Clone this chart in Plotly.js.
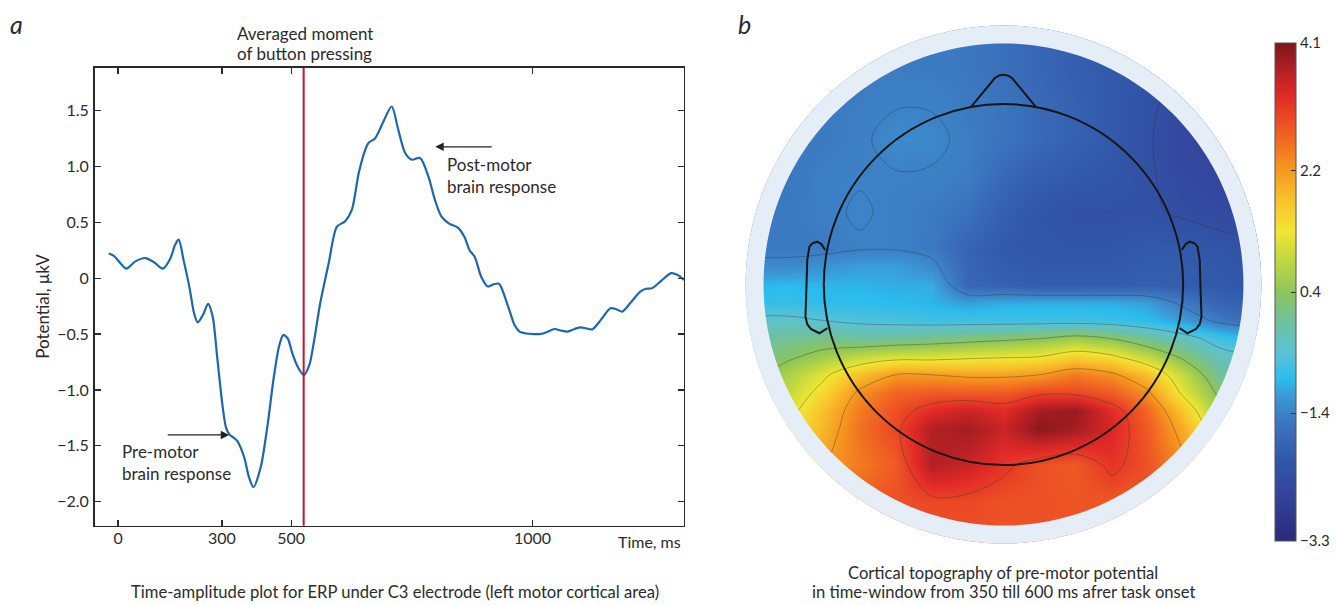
<!DOCTYPE html>
<html>
<head>
<meta charset="utf-8">
<script src="https://cdn.plot.ly/plotly-3.0.1.min.js"></script>
<style>html,body{margin:0;padding:0;background:#fff;}#chart{width:1336px;height:605px;}</style>
</head>
<body>
<div id="chart"></div>
<script>
// ---------- Panel a: ERP under C3 ----------
const timeMs = [-27,-12,5,24,50,79,105,129,150,165,175,190,206,220,230,245,260,273,287,302,312,322,335,345,364,378,391,412,431,450,465,477,490,503,520,536,552,565,584,608,632,656,675,695,714,723,742,766,790,809,829,848,872,896,915,934,955,982,1000,1015,1030,1049,1068,1085,1100,1126,1145,1159,1178,1200,1221,1240,1260,1280,1298,1318,1336,1352,1370,1395,1422,1440,1456,1480,1508,1525,1542,1570,1597,1615,1634];
const potential = [0.22,0.20,0.14,0.085,0.15,0.18,0.14,0.085,0.17,0.30,0.345,0.15,-0.08,-0.32,-0.395,-0.33,-0.23,-0.34,-0.73,-1.15,-1.34,-1.40,-1.43,-1.46,-1.60,-1.78,-1.87,-1.69,-1.33,-0.88,-0.61,-0.51,-0.54,-0.67,-0.80,-0.867,-0.78,-0.58,-0.22,0.13,0.46,0.51,0.61,0.94,1.15,1.21,1.25,1.40,1.536,1.33,1.12,1.06,1.075,0.91,0.70,0.55,0.49,0.45,0.37,0.25,0.19,0.01,-0.075,-0.055,-0.05,-0.25,-0.42,-0.478,-0.495,-0.50,-0.499,-0.48,-0.455,-0.47,-0.478,-0.455,-0.44,-0.45,-0.457,-0.37,-0.27,-0.28,-0.299,-0.22,-0.12,-0.095,-0.09,-0.02,0.045,0.03,-0.015];
const buttonPressMs = 536;
const xTickVals = [0, 300, 500, 1197];
const xTickText = ['0', '300', '500', '1000'];
const yTickVals = [-2, -1.5, -1, -0.5, 0, 0.5, 1, 1.5];
const yTickText = ['\u22122.0', '\u22121.5', '\u22121.0', '\u22120.5', '0', '0.5', '1.0', '1.5'];
const preMotorPoint = [321, -1.403];
const postMotorPoint = [916, 1.175];

// ---------- Panel b: topography ----------
const mapX = [-0.7,-0.6,-0.5,-0.4,-0.3,-0.2,-0.1,0,0.1,0.2,0.3,0.4,0.5,0.6,0.7];
const mapY = [0.7,0.6,0.5,0.4,0.3,0.2,0.1,0.05,0,-0.05,-0.1,-0.15,-0.2,-0.25,-0.3,-0.35,-0.4,-0.5,-0.6,-0.7];
const mapZ = [
 [-1.55,-1.55,-1.5,-1.5,-1.5,-1.5,-1.55,-1.65,-1.8,-1.95,-2.05,-2.15,-2.25,-2.35,-2.4],
 [-1.55,-1.55,-1.5,-1.5,-1.48,-1.5,-1.55,-1.65,-1.8,-1.95,-2.05,-2.15,-2.3,-2.4,-2.45],
 [-1.55,-1.52,-1.5,-1.47,-1.42,-1.42,-1.5,-1.6,-1.75,-1.9,-2.05,-2.25,-2.4,-2.5,-2.55],
 [-1.55,-1.55,-1.5,-1.45,-1.3,-1.33,-1.47,-1.6,-1.75,-1.9,-2.05,-2.25,-2.55,-2.65,-2.65],
 [-1.6,-1.55,-1.45,-1.42,-1.42,-1.43,-1.48,-1.75,-1.95,-2.05,-2.15,-2.25,-2.45,-2.55,-2.55],
 [-1.55,-1.52,-1.45,-1.37,-1.45,-1.5,-1.62,-1.95,-2.15,-2.25,-2.25,-2.25,-2.35,-2.45,-2.45],
 [-1.5,-1.5,-1.5,-1.43,-1.43,-1.52,-1.85,-2.05,-2.15,-2.15,-2.15,-2.05,-2.05,-2.15,-2.25],
 [-1.3,-1.3,-1.2,-1.1,-1.1,-1.3,-1.8,-2.0,-2.05,-2.05,-2.05,-2.0,-2.0,-2.1,-2.2],
 [-0.95,-0.9,-0.95,-0.95,-1.0,-1.0,-1.8,-1.9,-2.0,-2.0,-2.0,-1.95,-2.0,-2.05,-2.15],
 [-0.8,-0.8,-0.85,-0.85,-0.9,-0.95,-1.1,-1.0,-1.0,-1.0,-1.0,-1.1,-1.5,-1.85,-1.95],
 [-0.4,-0.4,-0.5,-0.6,-0.65,-0.7,-0.7,-0.7,-0.7,-0.7,-0.75,-0.85,-1.1,-1.5,-1.7],
 [-0.1,0.0,0.1,-0.05,0.0,0.1,0.2,0.3,0.4,0.6,0.4,0.0,-0.3,-0.7,-0.9],
 [0.0,0.3,0.6,0.9,1.1,1.1,1.2,1.25,1.3,1.6,1.4,0.9,0.3,-0.3,-0.5],
 [0.2,0.7,1.2,1.8,2.2,2.2,2.1,2.1,2.2,2.5,2.3,1.8,0.9,0.0,-0.2],
 [0.4,0.9,1.5,2.3,2.7,2.8,2.8,2.8,3.0,3.0,2.8,2.3,1.2,0.3,0.0],
 [0.6,1.1,1.8,2.5,2.9,3.3,3.5,3.3,3.8,3.9,3.3,2.7,1.7,0.6,0.3],
 [0.8,1.3,1.9,2.6,3.0,3.7,3.8,3.5,4.0,3.8,3.4,2.8,2.0,0.9,0.6],
 [1.4,1.8,2.2,2.5,2.8,3.7,3.5,3.2,2.9,2.8,3.2,2.9,2.3,1.6,1.3],
 [2.7,2.7,2.7,2.8,2.9,3.0,3.0,2.9,2.9,2.85,2.85,2.8,2.7,2.6,2.5],
 [2.9,2.9,2.9,2.9,2.9,2.9,2.9,2.9,2.9,2.9,2.9,2.9,2.9,2.9,2.9]
];
const cbTickVals = [4.1, 2.2, 0.4, -1.4, -3.3];
const cbTickText = ['4.1', '2.2', '0.4', '\u22121.4', '\u22123.3'];
const zMin = -3.3, zMax = 4.1;

const jetLike = [
 [0.000,'#2b2a7c'],[0.0946,'#34449c'],[0.1622,'#3157a9'],[0.2162,'#3a6cb8'],
 [0.2568,'#3c82c6'],[0.2973,'#3a9ed9'],[0.3243,'#2bbcee'],[0.3784,'#5bc3d3'],
 [0.4324,'#6cc0a5'],[0.5000,'#8ec55a'],[0.5676,'#c3d93f'],[0.6216,'#f1e633'],
 [0.6892,'#f8bf2b'],[0.7568,'#f5901f'],[0.8243,'#ef5a24'],[0.8919,'#e22a27'],
 [0.9595,'#a51d22'],[1.000,'#7c1717']
];

// geometry helpers (head model, in head-radius units: head radius 0.5)
function circ(r, n) {
  let p = '';
  for (let i = 0; i <= n; i++) {
    const a = 2 * Math.PI * i / n;
    p += (i === 0 ? 'M ' : ' L ') + (r * Math.cos(a)).toFixed(4) + ',' + (r * Math.sin(a)).toFixed(4);
  }
  return p + ' Z';
}
function poly(pts) {
  return pts.map((p, i) => (i ? 'L ' : 'M ') + p[0] + ',' + p[1]).join(' ');
}
const ringOuter = 0.7175, discR = 0.6676, axR = 0.77;
const earL = [[-0.496,0.0956],[-0.507,0.112],[-0.518,0.1186],[-0.532,0.114],[-0.540,0.1047],[-0.546,0.068],[-0.548,0.0],[-0.551,-0.089],[-0.546,-0.110],[-0.536,-0.123],[-0.512,-0.135],[-0.490,-0.121]];
const earR = earL.map(p => [-p[0], p[1]]);
const nose = 'M -0.090,0.4918 L -0.024,0.572 Q 0,0.590 0.024,0.572 L 0.090,0.4918';

const W = 1336, H = 605;
const px = v => v / W, py = v => 1 - v / H;
const FONT = 'Lato, "Open Sans", sans-serif';
const TXT = '#2b2b2b';
const cx = 1008, cy = 284.5, unit = 361;

const traces = [
  { type:'scatter', mode:'lines', x: timeMs, y: potential, xaxis:'x', yaxis:'y',
    line:{color:'#1c67b2', width:2.2, shape:'spline', smoothing:0.8}, hoverinfo:'skip', showlegend:false },
  { type:'heatmap', x: mapX, y: mapY.slice().reverse(), z: mapZ.slice().reverse(), xaxis:'x2', yaxis:'y2',
    zmin:zMin, zmax:zMax, zsmooth:'best', colorscale: jetLike, hoverinfo:'skip',
    colorbar:{ x: px(1281), xanchor:'left', y: py(292), yanchor:'middle', len:498, lenmode:'pixels',
      thickness:21, thicknessmode:'pixels', xpad:0, ypad:0, outlinewidth:1, outlinecolor:'#555',
      tickvals: cbTickVals, ticktext: cbTickText, ticks:'inside', ticklen:5, tickwidth:1, tickcolor:'#333',
      tickfont:{family:FONT, size:15, color:TXT} } },
  { type:'contour', x: mapX, y: mapY.slice().reverse(), z: mapZ.slice().reverse(), xaxis:'x2', yaxis:'y2',
    showscale:false, hoverinfo:'skip',
    contours:{coloring:'none', start:-2.3, end:3.2, size:0.9},
    line:{color:'rgba(50,50,50,0.42)', width:0.9, smoothing:1.0} }
];

const cbBottom = py(541), cbLen = 498 / H;
const cbDash = cbTickVals.slice(1, 4).map(v => {
  const yy = cbBottom + (v - zMin) / (zMax - zMin) * cbLen;
  return {type:'line', xref:'paper', yref:'paper', x0:px(1281), x1:px(1286), y0:yy, y1:yy, line:{color:'#333', width:1}};
});

const shapes = [
  {type:'line', xref:'x', yref:'y domain', x0:buttonPressMs, x1:buttonPressMs, y0:0, y1:1, line:{color:'#c4122f', width:2}},
  {type:'path', xref:'x2', yref:'y2', path:'M -1,-1 L 1,-1 L 1,1 L -1,1 Z ' + circ(ringOuter, 240), fillrule:'evenodd', fillcolor:'#ffffff', line:{width:0}, layer:'above'},
  {type:'path', xref:'x2', yref:'y2', path: circ(ringOuter, 240) + ' ' + circ(discR, 240), fillrule:'evenodd', fillcolor:'#e5eef7', line:{width:0}, layer:'above'},
  {type:'circle', xref:'x2', yref:'y2', x0:-0.5, x1:0.5, y0:-0.5, y1:0.5, line:{color:'#161616', width:2}, layer:'above'},
  {type:'path', xref:'x2', yref:'y2', path: nose, line:{color:'#161616', width:2}, layer:'above'},
  {type:'path', xref:'x2', yref:'y2', path: poly(earL), line:{color:'#161616', width:2}, layer:'above'},
  {type:'path', xref:'x2', yref:'y2', path: poly(earR), line:{color:'#161616', width:2}, layer:'above'}
].concat(cbDash);

function txt(text, x, y, opts) {
  return Object.assign({text:text, xref:'paper', yref:'paper', x:px(x), y:py(y), showarrow:false,
    xanchor:'center', yanchor:'middle', font:{family:FONT, size:17, color:TXT}}, opts || {});
}
const capFont = {family:FONT, size:16.6, color:TXT};

const annotations = [
  txt('<i>a</i>', 17, 24, {font:{family:FONT, size:25, color:TXT}}),
  txt('<i>b</i>', 748, 24, {font:{family:FONT, size:25, color:TXT}}),
  txt('Averaged moment', 306, 34),
  txt('of button pressing', 306, 54),
  txt('Potential, \u03bckV', 42, 306, {textangle:-90}),
  txt('Time, ms', 686, 541, {xanchor:'right', font:{family:FONT, size:16, color:TXT}}),
  txt('Post-motor', 447, 164, {xanchor:'left'}),
  txt('brain response', 447, 186, {xanchor:'left'}),
  txt('Pre-motor', 121, 451, {xanchor:'left'}),
  txt('brain response', 121, 473, {xanchor:'left'}),
  txt('Time-amplitude plot for ERP under C3 electrode (left motor cortical area)', 397, 592, {font:capFont}),
  txt('Cortical topography of pre-motor potential', 1008, 573, {font:capFont}),
  txt('in time-window from 350 till 600 ms afrer task onset', 1008, 592, {font:capFont}),
  {x:postMotorPoint[0], y:postMotorPoint[1], xref:'x', yref:'y', text:'', showarrow:true, ax:58, ay:0,
   arrowhead:2, arrowsize:1.3, arrowwidth:1.3, arrowcolor:'#222', standoff:0},
  {x:preMotorPoint[0], y:preMotorPoint[1], xref:'x', yref:'y', text:'', showarrow:true, ax:-63, ay:0,
   arrowhead:2, arrowsize:1.3, arrowwidth:1.3, arrowcolor:'#222', standoff:0}
];

const axisCommon = {showline:true, linecolor:'#2a2a2a', linewidth:1.5, mirror:'ticks', ticks:'inside',
  ticklen:6, tickwidth:1.2, tickcolor:'#2a2a2a', showgrid:false, zeroline:false,
  tickfont:{family:FONT, size:16, color:TXT}, fixedrange:true};

const layout = {
  width:W, height:H, margin:{l:0, r:0, t:0, b:0}, paper_bgcolor:'#fff', plot_bgcolor:'#fff',
  showlegend:false, font:{family:FONT, color:TXT},
  xaxis: Object.assign({}, axisCommon, {domain:[px(95), px(687)], range:[-67.8, 1634],
    tickmode:'array', tickvals:xTickVals, ticktext:xTickText, anchor:'y', ticklabelstandoff:-2}),
  yaxis: Object.assign({}, axisCommon, {domain:[py(525.7), py(67.7)], range:[-2.215, 1.883],
    tickmode:'array', tickvals:yTickVals, ticktext:yTickText, anchor:'x', ticklabelstandoff:1}),
  xaxis2: {domain:[px(cx - axR*unit), px(cx + axR*unit)], range:[-axR, axR], visible:false, anchor:'y2', fixedrange:true},
  yaxis2: {domain:[py(cy + axR*unit), py(cy - axR*unit)], range:[-axR, axR], visible:false, anchor:'x2', fixedrange:true},
  shapes: shapes,
  annotations: annotations
};

Plotly.newPlot('chart', traces, layout, {staticPlot:true, displayModeBar:false});
</script>
</body>
</html>
